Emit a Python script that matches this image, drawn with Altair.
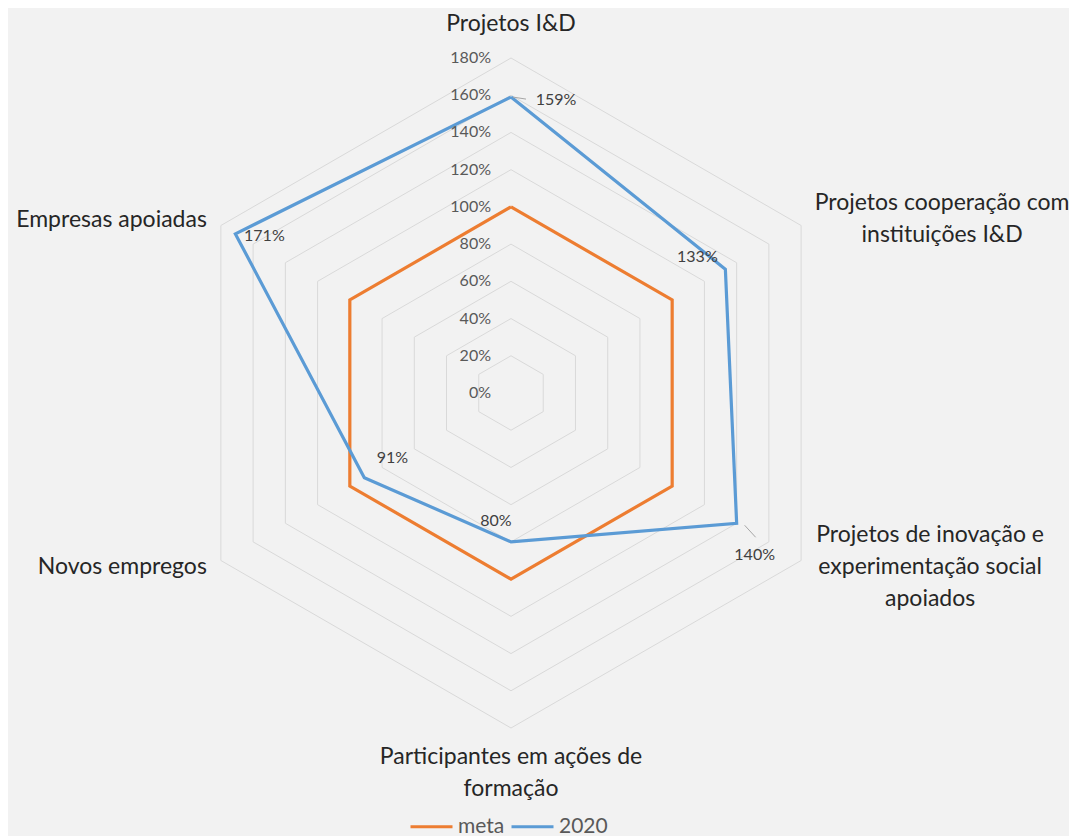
import altair as alt
import pandas as pd
import numpy as np

# ---------------- data ----------------
categories = [
    "Projetos I&D",
    "Projetos cooperação com\ninstituições I&D",
    "Projetos de inovação e\nexperimentação social\napoiados",
    "Participantes em ações de\nformação",
    "Novos empregos",
    "Empresas apoiadas",
]
series_names = ["meta", "2020"]
meta_values = [100, 100, 100, 100, 100, 100]
values_2020 = [159, 133, 140, 80, 91, 171]
ticks = [0, 20, 40, 60, 80, 100, 120, 140, 160, 180]
tick_labels = ["0%", "20%", "40%", "60%", "80%", "100%", "120%", "140%", "160%", "180%"]
data_labels_2020 = ["159%", "133%", "140%", "80%", "91%", "171%"]

# ---------------- styles / layout ----------------
COLORS = ["#ED7D31", "#5B9BD5"]
W, H = 1061, 828
K = 335 / 180.0          # pixels per percentage point
CX, CY = 503, 385        # centre in plot coords
FONT = "Lato"
# label offsets (pixels) of the first text line relative to outer vertex
cat_dx = [0, 141, 129, 0, -14, -14]
cat_dy = [-34, -23, -26, 29, 6, -6]
cat_align = ["center", "center", "center", "center", "right", "right"]
# data label offsets (pixels) relative to data point
lab_dx = [45, -28, 18, -15, 28, 29]
lab_dy = [3, -12, 32, -21, -20, 2]
leaders = [(2, 0, 15, 2), None, (8, 2, 19, 14), None, None, None]

n = len(categories)


def polar(r, i):
    a = i * 2 * np.pi / n
    return r * np.sin(a), r * np.cos(a)


# grid rings
grid_rows = []
for t in ticks[1:]:
    for j in range(n + 1):
        x, y = polar(t, j % n)
        grid_rows.append({"ring": t, "ord": j, "x": x, "y": y})
grid_df = pd.DataFrame(grid_rows)

# series
ser_rows = []
for s, vals in zip(series_names, [meta_values, values_2020]):
    for j in range(n + 1):
        x, y = polar(vals[j % n], j % n)
        ser_rows.append({"series": s, "ord": j, "x": x, "y": y})
ser_df = pd.DataFrame(ser_rows)

# category labels
cat_rows = []
for i, c in enumerate(categories):
    x, y = polar(ticks[-1], i)
    cat_rows.append({"label": c, "align": cat_align[i],
                     "x": x + cat_dx[i] / K, "y": y - cat_dy[i] / K})
cat_df = pd.DataFrame(cat_rows)

# tick labels
tick_df = pd.DataFrame({"label": tick_labels, "x": [-20 / K] * len(ticks), "y": ticks})

# data labels
lab_rows, lead_rows = [], []
for i, (v, l) in enumerate(zip(values_2020, data_labels_2020)):
    x, y = polar(v, i)
    lab_rows.append({"label": l, "x": x + lab_dx[i] / K, "y": y - lab_dy[i] / K})
    if leaders[i] is not None:
        a, b, c, d = leaders[i]
        lead_rows.append({"x": x + a / K, "y": y - b / K, "x2": x + c / K, "y2": y - d / K})
lab_df = pd.DataFrame(lab_rows)
lead_df = pd.DataFrame(lead_rows)

xs = alt.Scale(domain=[-CX / K, (W - CX) / K], nice=False, zero=False)
ys = alt.Scale(domain=[-(H - CY) / K, CY / K], nice=False, zero=False)
X = alt.X("x:Q", scale=xs, axis=None)
Y = alt.Y("y:Q", scale=ys, axis=None)

grid = alt.Chart(grid_df).mark_line(color="#D9D9D9", strokeWidth=1).encode(
    x=X, y=Y, detail="ring:N", order="ord:Q")

lines = alt.Chart(ser_df).mark_line(strokeWidth=3.2, strokeJoin="miter").encode(
    x=X, y=Y, order="ord:Q",
    color=alt.Color("series:N",
                    scale=alt.Scale(domain=series_names, range=COLORS),
                    legend=alt.Legend(orient="none", legendX=401, legendY=796,
                                      direction="horizontal", title=None,
                                      symbolType="stroke", symbolStrokeWidth=3,
                                      symbolSize=1764, labelFont=FONT,
                                      labelFontSize=21, labelColor="#595959",
                                      labelOffset=4, columnPadding=0, padding=0)),
)

leader_marks = alt.Chart(lead_df).mark_rule(color="#A6A6A6", strokeWidth=1).encode(
    x=X, y=Y, x2="x2:Q", y2="y2:Q")

data_text = alt.Chart(lab_df).mark_text(font=FONT, fontSize=16, color="#404040",
                                        align="center", baseline="middle").encode(
    x=X, y=Y, text="label:N")

tick_text = alt.Chart(tick_df).mark_text(font=FONT, fontSize=16, color="#595959",
                                         align="right", baseline="middle").encode(
    x=X, y=Y, text="label:N")

cat_center = alt.Chart(cat_df).transform_filter("datum.align == 'center'").mark_text(
    font=FONT, fontSize=23, color="#262626", align="center", baseline="middle",
    lineBreak="\n", lineHeight=32).encode(x=X, y=Y, text="label:N")
cat_right = alt.Chart(cat_df).transform_filter("datum.align == 'right'").mark_text(
    font=FONT, fontSize=23, color="#262626", align="right", baseline="middle",
    lineBreak="\n", lineHeight=32).encode(x=X, y=Y, text="label:N")

chart = alt.layer(grid, lines, leader_marks, data_text, tick_text, cat_center, cat_right).properties(
    width=W, height=H, background="#F2F2F2", padding=0,
    autosize=alt.AutoSizeParams(type="none"),
).configure_view(stroke=None)

chart.save("out.html", embed_options={"renderer": "svg", "actions": False})
